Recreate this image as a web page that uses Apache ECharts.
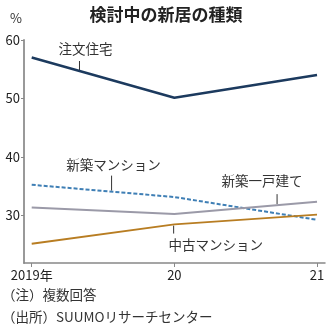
<!DOCTYPE html>
<html><head><meta charset="utf-8">
<script src="https://cdn.jsdelivr.net/npm/echarts@6/dist/echarts.min.js"></script>
<style>html,body{margin:0;padding:0;background:#fff}#c{width:332px;height:329px}</style>
</head><body><div id="c"></div>
<script>
const years = [2019, 2020, 2021];
const yearLabels = ['2019年', '20', '21'];
const yTicks = [30, 40, 50, 60];
const chumon = [57.0, 50.1, 54.0];
const shinchikuMansion = [35.2, 33.1, 29.2];
const shinchikuIkkodate = [31.3, 30.2, 32.3];
const chukoMansion = [25.1, 28.4, 30.1];
const title = '検討中の新居の種類';
const notes = ['（注）複数回答', '（出所）SUUMOリサーチセンター'];

const FONT = '"Noto Sans CJK JP", "Noto Sans", sans-serif';
const chart = echarts.init(document.getElementById('c'), null, {renderer: 'canvas'});
const pair = arr => years.map((y, i) => [y, arr[i]]);

chart.setOption({
  animation: false,
  backgroundColor: '#fff',
  title: {text: title, left: 'center', top: 1,
    textStyle: {fontFamily: FONT, fontSize: 17, fontWeight: 'bold', color: '#222'}},
  grid: {left: 24, right: 7, top: 40, bottom: 66},
  xAxis: {type: 'value', min: 2018.946, max: 2021.056,
    axisLine: {show: true, onZero: false, lineStyle: {color: '#888', width: 1.5}},
    axisTick: {show: true, length: 4, lineStyle: {color: '#888'}, customValues: years},
    axisLabel: {customValues: years, fontFamily: FONT, fontSize: 13, color: '#222', margin: 6,
      formatter: v => yearLabels[years.indexOf(Math.round(v))] || ''},
    splitLine: {show: false}},
  yAxis: {type: 'value', min: 21.8, max: 60,
    axisLine: {show: true, lineStyle: {color: '#999', width: 2}},
    axisTick: {show: true, length: 3, lineStyle: {color: '#888'}, customValues: yTicks},
    axisLabel: {customValues: yTicks, fontFamily: FONT, fontSize: 13, color: '#222', margin: 4},
    splitLine: {show: false}},
  graphic: [],
  series: [
    {type: 'line', data: pair(chumon), symbol: 'none', lineStyle: {color: '#1c3a5e', width: 2.5}},
    {type: 'line', data: pair(shinchikuMansion), symbol: 'none', lineStyle: {color: '#3f7fb5', width: 2, type: [4, 2]}},
    {type: 'line', data: pair(shinchikuIkkodate), symbol: 'none', lineStyle: {color: '#9b9aa8', width: 2}},
    {type: 'line', data: pair(chukoMansion), symbol: 'none', lineStyle: {color: '#b87d22', width: 1.8}}
  ]
});

function interp(arr, x) {
  for (let i = 0; i < years.length - 1; i++) {
    if (x >= years[i] && x <= years[i + 1]) {
      const t = (x - years[i]) / (years[i + 1] - years[i]);
      return arr[i] + t * (arr[i + 1] - arr[i]);
    }
  }
  return arr[arr.length - 1];
}
// annotation: text, series, anchor x (data), direction (-1 above, 1 below), text dx, leader length, text gap
const annots = [
  ['注文住宅', chumon, 2019.335, -1, 6, 9, 12],
  ['新築マンション', shinchikuMansion, 2019.56, -1, 2, 15, 11],
  ['新築一戸建て', shinchikuIkkodate, 2020.72, -1, -15, 10, 13],
  ['中古マンション', chukoMansion, 2019.995, 1, 42, 8, 11]
];
const g = [];
annots.forEach(([txt, arr, ax, dir, dx, len, gap]) => {
  const p = chart.convertToPixel({gridIndex: 0}, [ax, interp(arr, ax)]);
  const y0 = p[1] + dir * 1, y1 = p[1] + dir * (1 + len);
  g.push({type: 'line', shape: {x1: p[0], y1: y0, x2: p[0], y2: y1}, style: {stroke: '#333', lineWidth: 1}});
  g.push({type: 'text', x: p[0] + dx, y: y1 + dir * gap, style: {text: txt, fontFamily: FONT, fontSize: 13.5, fill: '#333',
    align: 'center', verticalAlign: 'middle'}});
});
g.push({type: 'text', left: 10, top: 12, style: {text: '%', fontFamily: FONT, fontSize: 13, fill: '#333'}});
g.push({type: 'text', left: 2, top: 288, style: {text: notes[0], fontFamily: FONT, fontSize: 13.5, fill: '#333'}});
g.push({type: 'text', left: 2, top: 310, style: {text: notes[1], fontFamily: FONT, fontSize: 13.5, fill: '#333'}});
chart.setOption({graphic: g});
</script></body></html>
